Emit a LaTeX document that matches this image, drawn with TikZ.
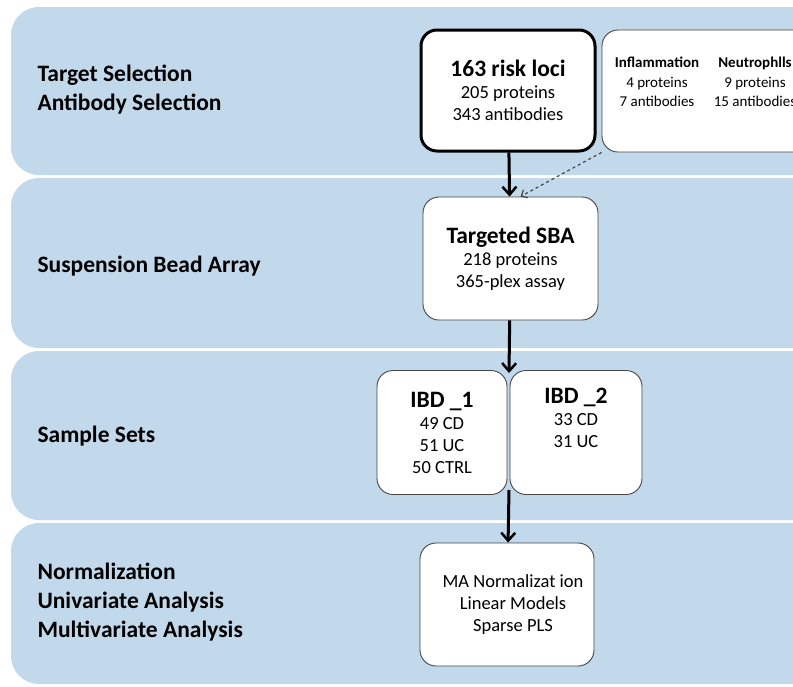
\documentclass[tikz,border=0pt]{standalone}
\usepackage{fontspec}
\setmainfont{Carlito}
\usetikzlibrary{arrows.meta}
\definecolor{bandblue}{RGB}{194,216,235}
\definecolor{boxgray}{RGB}{70,70,70}
\newcommand{\headfont}{\fontsize{23.5}{26}\selectfont\bfseries}

\begin{document}
\begin{tikzpicture}[x=1pt,y=-1pt,>={Straight Barb[length=8pt,width=14pt,line width=2.5pt]},
  band/.style={fill=bandblue,rounded corners=28pt},
  stage/.style={anchor=west,align=left,font=\fontsize{23.5}{29}\selectfont\bfseries},
  box/.style={draw=boxgray,fill=white,line width=0.9pt,rounded corners=16pt,align=center,
    font=\fontsize{18.5}{22}\selectfont,inner sep=0pt},
  small text/.style={align=center,font=\fontsize{15}{19.5}\selectfont},
  flow/.style={->,line width=3pt}]

  \useasboundingbox (0,0) rectangle (793,686);
  \clip (0,0) rectangle (793,686);

  % bands
  \foreach \top/\bot in {7/175,178/348,351/520,523/684}
    \path[band] (11,\top) rectangle (830,\bot);

  % stage labels
  \node[stage] (lsel) at (34,90) {Target Selection\\Antibody Selection};
  \node[stage] (lsba) at (34,266) {Suspension Bead Array};
  \node[stage] (lset) at (34,436) {Sample Sets};
  \node[stage] (lana) at (34,602) {Normalization\\Univariate Analysis\\Multivariate Analysis};

  % boxes
  \node[box,draw=black,line width=3pt,minimum width=174pt,minimum height=121pt] (loci) at (508,90.5)
    {{\headfont 163 risk loci}\\205 proteins\\343 antibodies};
  \node[box,minimum width=210pt,minimum height=122pt] (infl) at (707,91) {};
  \node[small text] (inflam) at (657,82) {{\bfseries Inflammation}\\4 proteins\\7 antibodies};
  \node[small text] (neutro) at (755,82) {{\bfseries Neutrophlls}\\9 proteins\\15 antibodies};

  \node[box,minimum width=175pt,minimum height=123pt] (sba) at (510.5,258.5)
    {{\headfont Targeted SBA}\\218 proteins\\365-plex assay};

  \node[box,minimum width=130pt,minimum height=124pt] (ibd1) at (442,432.5)
    {{\headfont IBD \_1}\\49 CD\\51 UC\\50 CTRL};
  \node[box,minimum width=132pt,minimum height=124pt] (ibd2) at (576,432.5)
    {{\headfont IBD \_2}\\33 CD\\31 UC\\\strut};

  \node[box,minimum width=174pt,minimum height=123pt] (stats) at (507,604.5)
    {\hspace*{12pt}MA Normalizat ion\\\hspace*{12pt}Linear Models\\\hspace*{12pt}Sparse PLS};

  \coordinate (split) at (509,373);
  \coordinate (merge) at (509,490);

  % connectors
  \draw[flow] (loci) -- (sba);
  \draw[->,dashed,boxgray,line width=1.2pt,>={Straight Barb[length=5pt,width=9pt]}]
    (infl.south west) -- ([xshift=10pt]sba.north);
  \draw[flow] (sba) -- (split);
  \draw[flow] (merge) -- (stats);
\end{tikzpicture}
\end{document}
